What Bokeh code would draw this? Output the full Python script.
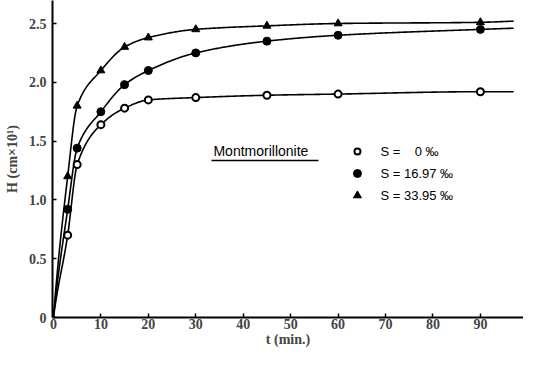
import numpy as np
from bokeh.plotting import figure
from bokeh.models import Range1d, FixedTicker, Label
from bokeh.embed import file_html
from bokeh.resources import INLINE

# ---- data ----
t_min = [3, 5, 10, 15, 20, 30, 45, 60, 90]
h_s0 = [0.70, 1.30, 1.64, 1.78, 1.85, 1.87, 1.89, 1.90, 1.92]
h_s1697 = [0.92, 1.44, 1.75, 1.98, 2.10, 2.25, 2.35, 2.40, 2.45]
h_s3395 = [1.20, 1.80, 2.10, 2.30, 2.38, 2.45, 2.48, 2.50, 2.51]
# fitted curves: start at origin, run on to t = 97
curve_end_t = 97
curve_end_h = {"s0": 1.92, "s1697": 2.46, "s3395": 2.52}
x_ticks = [0, 10, 20, 30, 40, 50, 60, 70, 80, 90]
y_ticks = [0, 0.5, 1.0, 1.5, 2.0, 2.5]
y_tick_labels = ["0", "0.5", "1.0", "1.5", "2.0", "2.5"]
legend_labels = ["S =\u00a0\u00a0\u00a0\u00a00 ‰", "S = 16.97 ‰", "S = 33.95 ‰"]


def pchip(x, y, xs):
    x = np.asarray(x, float); y = np.asarray(y, float)
    h = np.diff(x); d = np.diff(y) / h
    m = np.zeros_like(y)
    for k in range(1, len(x) - 1):
        if d[k - 1] * d[k] > 0:
            w1 = 2 * h[k] + h[k - 1]; w2 = h[k] + 2 * h[k - 1]
            m[k] = (w1 + w2) / (w1 / d[k - 1] + w2 / d[k])
    m[0] = d[0] * 1.3
    m[-1] = d[-1]
    out = np.empty_like(xs)
    for i, xv in enumerate(xs):
        k = min(max(np.searchsorted(x, xv) - 1, 0), len(x) - 2)
        t = (xv - x[k]) / h[k]
        h00 = 2 * t**3 - 3 * t**2 + 1; h10 = t**3 - 2 * t**2 + t
        h01 = -2 * t**3 + 3 * t**2; h11 = t**3 - t**2
        out[i] = h00 * y[k] + h10 * h[k] * m[k] + h01 * y[k + 1] + h11 * h[k] * m[k + 1]
    return out


FONT = "Liberation Serif"
SANS = "Liberation Sans"

W, H = 523, 349
BL, BB = 52, 32
PX_T, PX_H = 4.744, 117.6     # pixels per minute / per unit of H in the reference
X0 = -0.2
X1 = X0 + (W - BL) / PX_T
Y0 = 0.0
Y1 = (H - BB) / PX_H
p = figure(width=W, height=H, output_backend="svg", toolbar_location=None,
           x_range=Range1d(X0, X1), y_range=Range1d(Y0, Y1),
           min_border_left=BL, min_border_right=0, min_border_top=0, min_border_bottom=BB)
p.outline_line_color = None
p.grid.visible = False

for ax in (p.xaxis[0], p.yaxis[0]):
    ax.axis_line_width = 2
    ax.axis_line_color = "black"
    ax.major_tick_in = 4
    ax.major_tick_out = 0
    ax.minor_tick_line_color = None
    ax.major_tick_line_width = 1.5
    ax.major_label_text_font = FONT
    ax.major_label_text_font_style = "bold"
    ax.major_label_text_font_size = "14px"
    ax.axis_label_text_font = FONT
    ax.axis_label_text_font_style = "bold"
    ax.axis_label_text_font_size = "14px"

p.xaxis.ticker = FixedTicker(ticks=x_ticks)
p.yaxis.ticker = FixedTicker(ticks=y_ticks)
p.yaxis.major_label_overrides = {t: l for t, l in zip(y_ticks, y_tick_labels)}
p.yaxis.axis_label = "H (cm×10¹)"
p.xaxis.axis_label = "t (min.)"
p.xaxis.major_label_standoff = 1
p.xaxis.axis_label_standoff = 0
p.yaxis.major_label_standoff = 6
p.yaxis.axis_label_standoff = 6


# reference picture coordinates -> data
def dx(page_x):
    return (page_x - 53) / PX_T


def dy(page_y):
    return (321 - page_y) / PX_H


series = [("s0", h_s0), ("s1697", h_s1697), ("s3395", h_s3395)]
for key, hv in series:
    xs_pts = [0] + t_min + [curve_end_t]
    ys_pts = [0] + hv + [curve_end_h[key]]
    xx = np.linspace(0, curve_end_t, 400)
    yy = pchip(xs_pts, ys_pts, xx)
    p.line(xx, yy, line_color="black", line_width=1.6)

p.scatter(t_min, h_s0, marker="circle", size=7, fill_color="white",
          line_color="black", line_width=2)
p.scatter(t_min, h_s1697, marker="circle", size=8, fill_color="black",
          line_color="black")
p.scatter(t_min, h_s3395, marker="triangle", size=8, fill_color="black",
          line_color="black")

# legend block
p.add_layout(Label(x=dx(213), y=dy(154), text="Montmorillonite", text_font=SANS,
                   text_font_size="14px", text_baseline="middle", text_color="black"))
p.line(x=[dx(211), dx(318)], y=[dy(164)] * 2, line_color="black", line_width=1.5)

leg_y = [155, 177, 199]
marks = [("circle", "white", 6), ("circle", "black", 8), ("triangle", "black", 8)]
for (mk, fc, sz), ly, txt in zip(marks, leg_y, legend_labels):
    p.scatter([dx(357)], [dy(ly)], marker=mk, size=sz, fill_color=fc, line_color="black",
              line_width=2 if fc == "white" else 1)
    p.add_layout(Label(x=dx(380), y=dy(ly), text=txt, text_font=SANS,
                       text_font_size="13px", text_baseline="middle", text_color="black"))

open("out.html", "w").write(file_html(p, INLINE))
